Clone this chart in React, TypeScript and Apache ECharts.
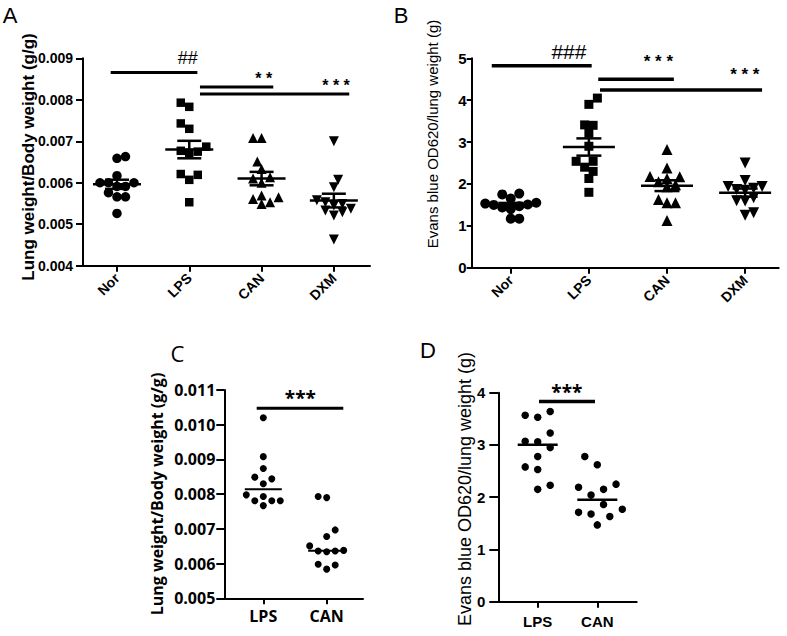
import React, { useEffect, useRef } from "react";
import * as echarts from "echarts";

// ---------- data ----------
const groupsAB = ["Nor", "LPS", "CAN", "DXM"];
const groupsCD = ["LPS", "CAN"];

// Panel A: lung weight / body weight (g/g)
const aNor = [0.00663, 0.00659, 0.00617, 0.006, 0.006, 0.00591, 0.00591, 0.006, 0.00566, 0.00566, 0.00576, 0.00526];
const aLps = [0.00793, 0.00783, 0.00743, 0.0073, 0.00675, 0.00687, 0.00672, 0.00677, 0.00619, 0.00607, 0.00621, 0.00553];
const aCan = [0.00708, 0.00708, 0.00651, 0.00633, 0.006, 0.0061, 0.00613, 0.00561, 0.00549, 0.00565, 0.00553, 0.00569];
const aDxm = [0.007, 0.00607, 0.00589, 0.00545, 0.00529, 0.00533, 0.00549, 0.00537, 0.00521, 0.00553, 0.00558, 0.00463];

// Panel B: Evans blue OD620 / lung weight (g)
const bNor = [1.55, 1.65, 1.51, 1.4, 1.77, 1.75, 1.53, 1.5, 1.44, 1.17, 1.17, 1.47];
const bLps = [4.05, 3.9, 3.4, 3.41, 3.21, 2.9, 2.54, 2.4, 2.54, 2.3, 2.13, 1.8];
const bCan = [2.82, 2.38, 2.13, 2.18, 2.17, 1.98, 2.05, 1.63, 1.55, 1.55, 1.13, 1.93];
const bDxm = [2.5, 2.08, 1.87, 1.85, 1.94, 1.9, 1.94, 1.67, 1.59, 1.25, 1.31, 1.6];

// Panel C: lung weight / body weight (g/g)
const cLps = [0.0102, 0.00908, 0.00874, 0.00849, 0.00844, 0.0083, 0.00798, 0.00781, 0.00781, 0.00781, 0.00793, 0.00767];
const cCan = [0.0079, 0.00793, 0.00697, 0.00678, 0.00651, 0.00638, 0.00636, 0.00634, 0.00636, 0.00584, 0.00598, 0.00596];

// Panel D: Evans blue OD620 / lung weight (g)
const dLps = [3.64, 3.53, 3.57, 3.23, 3.07, 3.06, 2.95, 2.78, 2.53, 2.58, 2.15, 2.23];
const dCan = [2.78, 2.62, 2.15, 2.19, 2.25, 2.04, 1.86, 1.77, 1.71, 1.68, 1.63, 1.47];

// significance annotations: from/to in group units, y level in data units, label
const sigA = [
  { from: -0.087, to: 1.112, y: 0.00866, label: "##", lx: 0.98 },
  { from: 1.148, to: 2.162, y: 0.00831, label: "* *", lx: 2.03 },
  { from: 1.148, to: 3.213, y: 0.00814, label: "* * *", lx: 3.03 },
];
const sigB = [
  { from: -0.243, to: 1.036, y: 4.823, label: "###", lx: 0.745 },
  { from: 1.12, to: 2.088, y: 4.498, label: "* * *", lx: 1.89 },
  { from: 1.142, to: 3.217, y: 4.243, label: "* * *", lx: 2.996 },
];
const sigC = [{ from: -0.104, to: 1.262, y: 0.010473, label: "***", lx: 0.584 }];
const sigD = [{ from: 0.022, to: 0.961, y: 3.832, label: "***", lx: 0.49 }];

const titleA = "Lung weight/Body weight (g/g)";
const titleB = "Evans blue OD620/lung weight (g)";

// ---------- helpers ----------
const LIB = "'Liberation Sans', Arial, sans-serif";
const OPEN = "'Open Sans', 'Liberation Sans', sans-serif";

const mean = (a: number[]) => a.reduce((s, v) => s + v, 0) / a.length;
const sem = (a: number[]) => {
  const m = mean(a);
  const v = a.reduce((s, x) => s + (x - m) * (x - m), 0) / (a.length - 1);
  return Math.sqrt(v) / Math.sqrt(a.length);
};
const median = (a: number[]) => {
  const s = [...a].sort((x, y) => x - y);
  const n = s.length;
  return n % 2 ? s[(n - 1) / 2] : (s[n / 2 - 1] + s[n / 2]) / 2;
};

// beeswarm offsets (px) so markers do not pile up
const swarm = (vals: number[], pxPerUnit: number, d: number): number[] => {
  const order = vals.map((_, i) => i).sort((a, b) => vals[a] - vals[b]);
  const placed: [number, number][] = [];
  const out = vals.map(() => 0);
  const step = d / 2;
  for (const i of order) {
    const y = vals[i] * pxPerUnit;
    const sum = placed.reduce((s, p) => s + p[0], 0);
    const sign = sum > 0 ? -1 : 1;
    let chosen = 0;
    for (let k = 0; k < 60; k++) {
      const mag = Math.ceil(k / 2) * step;
      const x = k === 0 ? 0 : k % 2 === 1 ? sign * mag : -sign * mag;
      if (placed.every((p) => (p[0] - x) ** 2 + (p[1] - y) ** 2 >= (d * 0.97) ** 2)) {
        chosen = x;
        break;
      }
    }
    placed.push([chosen, y]);
    out[i] = chosen;
  }
  return out;
};

const font = (weight: string, size: number, family: string) => `${weight} ${size}px ${family}`;

type Sig = { from: number; to: number; y: number; label: string; lx: number };
type Panel = {
  grid: { left: number; top: number; width: number; height: number };
  xr: [number, number];
  yr: [number, number, number];
  cats: string[];
  groups: number[][];
  symbols: string[];
  rots: number[];
  sizes: number[];
  swarmD: number;
  stat: "meanSem" | "median";
  hw: number;
  cw: number;
  statLw: number;
  sig: Sig[];
  sigLw: number;
  sigDy: number[];
  sigFont: string[];
  tickFont: { size: number; family: string };
  yTickLen: number;
  yLabelMargin: number;
  xRotate: number;
  xLabelMargin: number;
  xFont: { size: number; family: string };
  yDecimals: number;
};

const panels: Panel[] = [
  {
    grid: { left: 83, top: 58.3, width: 287, height: 207.4 },
    xr: [-0.47, 3.5],
    yr: [0.004, 0.009, 0.001],
    cats: groupsAB,
    groups: [aNor, aLps, aCan, aDxm],
    symbols: ["circle", "rect", "triangle", "triangle"],
    rots: [0, 0, 0, 180],
    sizes: [9.5, 8.5, 10, 10],
    swarmD: 8.5,
    stat: "meanSem",
    hw: 24,
    cw: 12,
    statLw: 2.5,
    sig: sigA,
    sigLw: 3,
    sigDy: [-14.5, -8, -8],
    sigFont: [font("normal", 18, LIB), font("bold", 16, LIB), font("bold", 16, LIB)],
    tickFont: { size: 14, family: LIB },
    yTickLen: 7,
    yLabelMargin: 10,
    xRotate: 45,
    xLabelMargin: 10,
    xFont: { size: 14, family: LIB },
    yDecimals: 3,
  },
  {
    grid: { left: 471.7, top: 58.3, width: 307, height: 209.4 },
    xr: [-0.5, 3.43],
    yr: [0, 5, 1],
    cats: groupsAB,
    groups: [bNor, bLps, bCan, bDxm],
    symbols: ["circle", "rect", "triangle", "triangle"],
    rots: [0, 0, 0, 180],
    sizes: [10, 9, 11, 11],
    swarmD: 8.5,
    stat: "meanSem",
    hw: 26,
    cw: 12.5,
    statLw: 2.5,
    sig: sigB,
    sigLw: 3.5,
    sigDy: [-14.7, -18, -16],
    sigFont: [font("normal", 21, LIB), font("bold", 17, LIB), font("bold", 17, LIB)],
    tickFont: { size: 15, family: LIB },
    yTickLen: 5,
    yLabelMargin: 5,
    xRotate: 45,
    xLabelMargin: 10,
    xFont: { size: 14, family: LIB },
    yDecimals: 0,
  },
  {
    grid: { left: 224.3, top: 390, width: 138.7, height: 208.3 },
    xr: [-0.615, 1.573],
    yr: [0.005, 0.011, 0.001],
    cats: groupsCD,
    groups: [cLps, cCan],
    symbols: ["circle", "circle"],
    rots: [0, 0],
    sizes: [7, 7],
    swarmD: 8.5,
    stat: "median",
    hw: 18.5,
    cw: 0,
    statLw: 2,
    sig: sigC,
    sigLw: 3,
    sigDy: [-10],
    sigFont: [font("bold", 19, OPEN)],
    tickFont: { size: 16, family: OPEN },
    yTickLen: 8,
    yLabelMargin: 9,
    xRotate: 0,
    xLabelMargin: 10,
    xFont: { size: 16, family: OPEN },
    yDecimals: 3,
  },
  {
    grid: { left: 498.3, top: 392.7, width: 138.4, height: 209 },
    xr: [-0.661, 1.661],
    yr: [0, 4, 1],
    cats: groupsCD,
    groups: [dLps, dCan],
    symbols: ["circle", "circle"],
    rots: [0, 0],
    sizes: [7.5, 7.5],
    swarmD: 12.5,
    stat: "median",
    hw: 20,
    cw: 0,
    statLw: 2.5,
    sig: sigD,
    sigLw: 3.5,
    sigDy: [-9],
    sigFont: [font("bold", 19, OPEN)],
    tickFont: { size: 15, family: LIB },
    yTickLen: 9,
    yLabelMargin: 13,
    xRotate: 0,
    xLabelMargin: 12,
    xFont: { size: 15, family: LIB },
    yDecimals: 0,
  },
];

const buildOption = () => {
  const grid: any[] = [];
  const xAxis: any[] = [];
  const yAxis: any[] = [];
  const series: any[] = [];

  panels.forEach((p, pi) => {
    grid.push({ ...p.grid, containLabel: false, outerBoundsMode: "none" });
    const catIdx = p.cats.map((_, i) => i);
    xAxis.push({
      gridIndex: pi,
      type: "value",
      min: p.xr[0],
      max: p.xr[1],
      splitLine: { show: false },
      axisLine: { show: true, onZero: false, lineStyle: { color: "#000", width: 2 } },
      axisTick: { show: true, customValues: catIdx, length: 6, lineStyle: { color: "#000", width: 2 } },
      axisLabel: {
        customValues: catIdx,
        formatter: (v: number) => p.cats[Math.round(v)] ?? "",
        rotate: p.xRotate,
        margin: p.xLabelMargin,
        color: "#000",
        fontSize: p.xFont.size,
        fontFamily: p.xFont.family,
        fontWeight: "bold",
      },
    });
    yAxis.push({
      gridIndex: pi,
      type: "value",
      min: p.yr[0],
      max: p.yr[1],
      interval: p.yr[2],
      splitLine: { show: false },
      axisLine: { show: true, onZero: false, lineStyle: { color: "#000", width: 2 } },
      axisTick: { show: true, length: p.yTickLen, lineStyle: { color: "#000", width: 2 } },
      axisLabel: {
        margin: p.yLabelMargin,
        color: "#000",
        fontSize: p.tickFont.size,
        fontFamily: p.tickFont.family,
        fontWeight: "bold",
        formatter: (v: number) => v.toFixed(p.yDecimals),
      },
    });

    const pxPerCat = p.grid.width / (p.xr[1] - p.xr[0]);
    const pxPerUnit = p.grid.height / (p.yr[1] - p.yr[0]);

    p.groups.forEach((vals, gi) => {
      const offs = swarm(vals, pxPerUnit, p.swarmD);
      series.push({
        type: "scatter",
        xAxisIndex: pi,
        yAxisIndex: pi,
        silent: true,
        symbol: p.symbols[gi],
        symbolRotate: p.rots[gi],
        symbolSize: p.sizes[gi],
        itemStyle: { color: "#000", opacity: 1 },
        data: vals.map((v, j) => [gi + offs[j] / pxPerCat, v]),
      });
    });

    const statData = p.groups.map((vals, gi) =>
      p.stat === "meanSem" ? [gi, mean(vals), sem(vals)] : [gi, median(vals), 0]
    );
    series.push({
      type: "custom",
      xAxisIndex: pi,
      yAxisIndex: pi,
      silent: true,
      z: 5,
      data: statData,
      renderItem: (params: any, api: any) => {
        const cat = api.value(0) as number;
        const m = api.value(1) as number;
        const s = api.value(2) as number;
        const c = api.coord([cat, m]);
        const st = { stroke: "#000", lineWidth: p.statLw };
        const children: any[] = [
          { type: "line", shape: { x1: c[0] - p.hw, y1: c[1], x2: c[0] + p.hw, y2: c[1] }, style: st },
        ];
        if (s > 0) {
          const t = api.coord([cat, m + s]);
          const b = api.coord([cat, m - s]);
          children.push(
            { type: "line", shape: { x1: c[0], y1: t[1], x2: c[0], y2: b[1] }, style: st },
            { type: "line", shape: { x1: c[0] - p.cw, y1: t[1], x2: c[0] + p.cw, y2: t[1] }, style: st },
            { type: "line", shape: { x1: c[0] - p.cw, y1: b[1], x2: c[0] + p.cw, y2: b[1] }, style: st }
          );
        }
        return { type: "group", children };
      },
    });

    series.push({
      type: "custom",
      xAxisIndex: pi,
      yAxisIndex: pi,
      silent: true,
      z: 6,
      data: p.sig.map((s) => [s.from, s.y]),
      renderItem: (params: any, api: any) => {
        const s = p.sig[params.dataIndex];
        const p0 = api.coord([s.from, s.y]);
        const p1 = api.coord([s.to, s.y]);
        const pl = api.coord([s.lx, s.y]);
        return {
          type: "group",
          children: [
            {
              type: "line",
              shape: { x1: p0[0], y1: p0[1], x2: p1[0], y2: p1[1] },
              style: { stroke: "#000", lineWidth: p.sigLw },
            },
            {
              type: "text",
              x: pl[0],
              y: pl[1] + p.sigDy[params.dataIndex],
              style: {
                text: s.label,
                fill: "#000",
                font: p.sigFont[params.dataIndex],
                align: "center",
                verticalAlign: "middle",
              },
            },
          ],
        };
      },
    });
  });

  const txt = (text: string, x: number, y: number, f: string, rotate: boolean) => ({
    type: "text",
    x,
    y,
    rotation: rotate ? Math.PI / 2 : 0,
    silent: true,
    style: {
      text,
      fill: "#000",
      font: f,
      align: "center",
      verticalAlign: "middle",
      textAlign: "center",
      textVerticalAlign: "middle",
    },
  });

  const graphic = [
    txt("A", 10, 15, font("normal", 22, LIB), false),
    txt("B", 401, 15, font("normal", 22, LIB), false),
    txt("C", 177.5, 353, font("normal", 22, OPEN), false),
    txt("D", 428, 350, font("normal", 22, LIB), false),
    txt(titleA, 28, 157, font("bold", 17, LIB), true),
    txt(titleB, 432, 134, font("normal", 15, LIB), true),
    txt(titleA, 157, 494, font("bold", 16, OPEN), true),
    txt(titleB, 465, 489, font("normal", 18, LIB), true),
  ];

  return {
    animation: false,
    backgroundColor: "#fff",
    grid,
    xAxis,
    yAxis,
    series,
    graphic,
  };
};

export default function App() {
  const ref = useRef<HTMLDivElement>(null);
  useEffect(() => {
    document.body.style.margin = "0";
    if (!ref.current) return;
    const chart = echarts.init(ref.current, undefined, { renderer: "svg" });
    chart.setOption(buildOption() as any);
    return () => chart.dispose();
  }, []);
  return <div ref={ref} style={{ width: 787, height: 636 }} />;
}
